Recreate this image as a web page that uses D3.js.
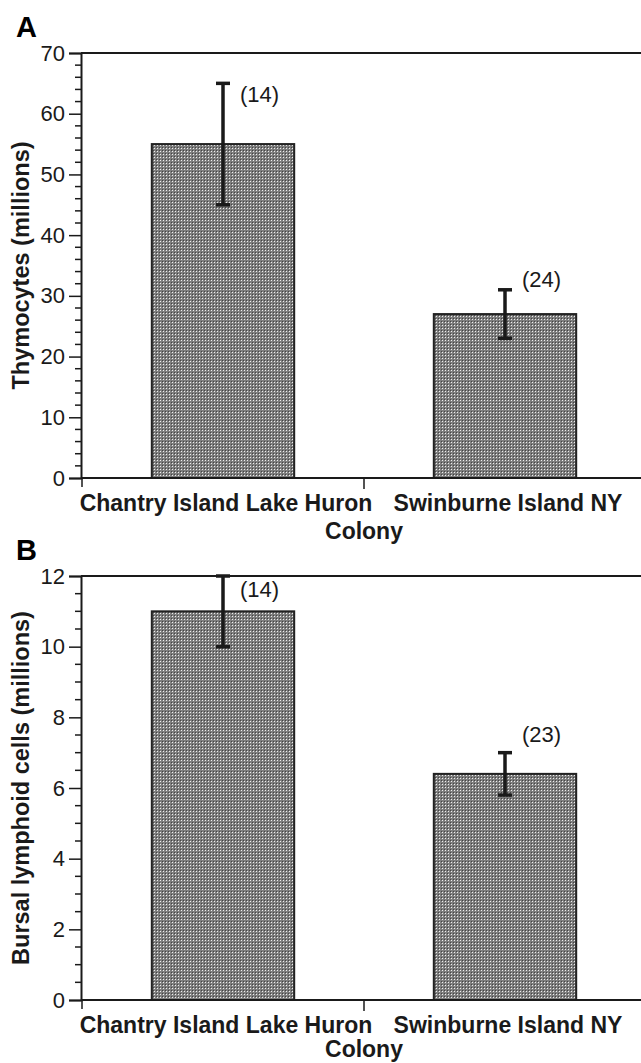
<!DOCTYPE html>
<html>
<head>
<meta charset="utf-8">
<script src="https://cdn.jsdelivr.net/npm/d3@7"></script>
<style>
  body { margin: 0; background: #fff; }
  svg { display: block; font-family: "Liberation Sans", Arial, sans-serif; }
</style>
</head>
<body>
<svg id="chart"></svg>
<script>
// data
const colonies = ["Chantry Island Lake Huron", "Swinburne Island NY"];

const thymoMeans = [55, 27];
const thymoLow = [45, 23];
const thymoHigh = [65, 31];
const thymoN = ["(14)", "(24)"];
const thymoTicks = [0, 10, 20, 30, 40, 50, 60, 70];

const bursalMeans = [11, 6.4];
const bursalLow = [10, 5.8];
const bursalHigh = [12, 7.0];
const bursalN = ["(14)", "(23)"];
const bursalTicks = [0, 2, 4, 6, 8, 10, 12];

const W = 641, H = 1063;
const svg = d3.select('#chart').attr('width', W).attr('height', H);

const defs = svg.append('defs');
const pat = defs.append('pattern').attr('id', 'dots')
    .attr('patternUnits', 'userSpaceOnUse').attr('width', 3).attr('height', 3);
pat.append('rect').attr('width', 3).attr('height', 3).attr('fill', '#7e7e7e');
pat.append('rect').attr('x', 1).attr('y', 1).attr('width', 1).attr('height', 1).attr('fill', '#eeeeee');
pat.append('rect').attr('x', 0).attr('y', 0).attr('width', 1).attr('height', 1).attr('fill', '#444');

function drawPanel(opts){
    const g = svg.append('g').attr('class', 'panel');
    const x = d3.scaleBand().domain(colonies).range([82, 646]).paddingInner(0).paddingOuter(0);
    const y = d3.scaleLinear().domain([0, opts.max]).range([opts.bottom, opts.top]);
    const barW = x.bandwidth() * 0.505;

    // panel letter
    g.append('text').attr('x', 16).attr('y', opts.top - 16)
        .style('font-size', '29px').style('font-weight', 'bold').text(opts.letter);

    // top frame line
    g.append('line').attr('x1', 81).attr('x2', W).attr('y1', y(opts.max)).attr('y2', y(opts.max))
        .attr('stroke', '#1a1a1a').attr('stroke-width', 2);

    // y axis
    const yAxis = d3.axisLeft(y).tickValues(opts.ticks).tickSize(12).tickPadding(4)
        .tickFormat(d3.format('d'));
    const ya = g.append('g').attr('transform', 'translate(81,0)').call(yAxis);
    ya.select('.domain').attr('stroke', '#1a1a1a').attr('stroke-width', 2);
    ya.selectAll('.tick line').attr('stroke', '#1a1a1a').attr('stroke-width', 1.5);
    ya.selectAll('.tick text').style('font-size', '22px').attr('fill', '#1a1a1a')
        .style('font-family', '"Liberation Sans", Arial, sans-serif');
    // minor ticks
    const minor = d3.range(0, opts.max + 1e-9, opts.minor).filter(v => opts.ticks.indexOf(+v.toFixed(3)) < 0);
    g.append('g').selectAll('line').data(minor).enter().append('line')
        .attr('x1', 75).attr('x2', 81)
        .attr('y1', d => y(d)).attr('y2', d => y(d))
        .attr('stroke', '#1a1a1a').attr('stroke-width', 1.5);

    // y axis title
    g.append('text')
        .attr('transform', 'translate(' + opts.titleX + ',' + ((opts.top + opts.bottom) / 2) + ') rotate(-90)')
        .attr('text-anchor', 'middle')
        .style('font-size', '23.5px').style('font-weight', 'bold').attr('fill', '#1a1a1a')
        .text(opts.yTitle);

    // bars
    g.append('g').selectAll('rect').data(colonies).enter().append('rect')
        .attr('x', d => x(d) + (x.bandwidth() - barW) / 2)
        .attr('y', (d, i) => y(opts.means[i]))
        .attr('width', barW)
        .attr('height', (d, i) => y(0) - y(opts.means[i]))
        .attr('fill', 'url(#dots)')
        .attr('stroke', '#222').attr('stroke-width', 2);

    // error bars
    const eb = g.append('g').selectAll('g').data(colonies).enter().append('g')
        .attr('stroke', '#1a1a1a').attr('stroke-width', 3.5);
    const cx = d => x(d) + x.bandwidth() / 2;
    eb.append('line').attr('x1', cx).attr('x2', cx)
        .attr('y1', (d, i) => y(opts.low[i])).attr('y2', (d, i) => y(opts.high[i]));
    eb.append('line').attr('x1', d => cx(d) - 7).attr('x2', d => cx(d) + 7)
        .attr('y1', (d, i) => y(opts.high[i])).attr('y2', (d, i) => y(opts.high[i]));
    eb.append('line').attr('x1', d => cx(d) - 7).attr('x2', d => cx(d) + 7)
        .attr('y1', (d, i) => y(opts.low[i])).attr('y2', (d, i) => y(opts.low[i]));

    // n labels
    g.append('g').selectAll('text').data(colonies).enter().append('text')
        .attr('x', d => cx(d) + 17)
        .attr('y', (d, i) => y(opts.high[i]) + opts.nDy[i])
        .style('font-size', '22px').attr('fill', '#1a1a1a')
        .text((d, i) => opts.n[i]);

    // x axis
    g.append('line').attr('x1', 81).attr('x2', W).attr('y1', y(0)).attr('y2', y(0))
        .attr('stroke', '#1a1a1a').attr('stroke-width', 2);
    g.append('g').selectAll('line').data(colonies).enter().append('line')
        .attr('x1', d => x(d)).attr('x2', d => x(d))
        .attr('y1', y(0)).attr('y2', (d, i) => y(0) + (i === 0 ? 9 : 11))
        .attr('stroke', '#1a1a1a').attr('stroke-width', 1.5);
    g.append('g').selectAll('text').data(colonies).enter().append('text')
        .attr('x', d => cx(d) + 3)
        .attr('y', y(0) + 33)
        .attr('text-anchor', 'middle')
        .style('font-size', '23px').style('font-weight', 'bold').attr('fill', '#1a1a1a')
        .text(d => d);
    g.append('text').attr('x', x(colonies[1])).attr('y', y(0) + opts.colonyDy)
        .attr('text-anchor', 'middle')
        .style('font-size', '23px').style('font-weight', 'bold').attr('fill', '#1a1a1a')
        .text('Colony');
}

drawPanel({
    letter: 'A', top: 53, bottom: 478, max: 70, minor: 2, ticks: thymoTicks,
    means: thymoMeans, low: thymoLow, high: thymoHigh, n: thymoN, nDy: [19, -3],
    yTitle: 'Thymocytes (millions)', titleX: 29, colonyDy: 61
});
drawPanel({
    letter: 'B', top: 576, bottom: 1000, max: 12, minor: 0.5, ticks: bursalTicks,
    means: bursalMeans, low: bursalLow, high: bursalHigh, n: bursalN, nDy: [21, -11],
    yTitle: 'Bursal lymphoid cells (millions)', titleX: 29, colonyDy: 57
});
</script>
</body>
</html>
